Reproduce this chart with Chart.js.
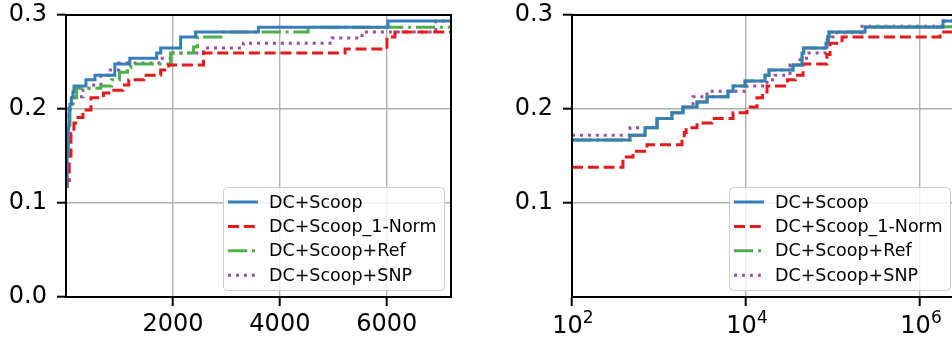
<!DOCTYPE html>
<html>
<head>
<meta charset="utf-8">
<script src="https://cdn.jsdelivr.net/npm/chart.js@4"></script>
<style>
  html, body { margin: 0; padding: 0; background: #fff; overflow: hidden; width: 952px; height: 340px; }
  canvas { position: absolute; top: 0; }
</style>
</head>
<body>
<canvas id="left" width="470" height="340" style="left:0"></canvas>
<canvas id="right" width="480" height="340" style="left:500px"></canvas>
<script>
// ─── Data ────────────────────────────────────────────────────────────────────

const seriesNames = ['DC+Scoop', 'DC+Scoop_1-Norm', 'DC+Scoop+Ref', 'DC+Scoop+SNP'];

// left panel (linear x)
const leftBlueX   = [0, 20, 40, 56, 75, 100, 130, 150, 373, 541, 913, 1193, 1696, 1771, 2144, 2423, 3598, 6021, 7200];
const leftBlueY   = [0.118, 0.15, 0.18, 0.199, 0.205, 0.212, 0.218, 0.2245, 0.231, 0.236, 0.248, 0.254, 0.2596, 0.265, 0.2766, 0.282, 0.287, 0.2936, 0.2936];
const leftRedX    = [0, 20, 60, 93, 149, 224, 317, 466, 700, 895, 1062, 1174, 1454, 1771, 1920, 2572, 5219, 6002, 6151, 7200];
const leftRedY    = [0.118, 0.124, 0.15, 0.174, 0.185, 0.191, 0.199, 0.212, 0.217, 0.220, 0.2255, 0.231, 0.236, 0.2415, 0.2468, 0.2596, 0.2638, 0.2766, 0.282, 0.282];
const leftGreenX  = [0, 15, 40, 75, 130, 200, 650, 850, 1000, 1150, 1212, 1957, 2386, 2460, 2926, 4529, 7200];
const leftGreenY  = [0.118, 0.15, 0.18, 0.20, 0.212, 0.222, 0.2245, 0.231, 0.239, 0.244, 0.248, 0.2596, 0.266, 0.2766, 0.282, 0.287, 0.287];
const leftPurpleX = [0, 15, 35, 56, 130, 317, 429, 652, 801, 988, 1771, 1950, 2572, 3318, 4977, 5536, 6915, 7200];
const leftPurpleY = [0.118, 0.15, 0.18, 0.206, 0.213, 0.220, 0.2255, 0.236, 0.2415, 0.249, 0.254, 0.2596, 0.265, 0.270, 0.2755, 0.282, 0.2936, 0.2936];

// right panel (log x)
const rightBlueX   = [100, 464, 690, 949, 1409, 1888, 2735, 3566, 6210, 7100, 9750, 16530, 18370, 34670, 44030, 46000, 83180, 87000, 89950, 233300, 1837000, 2660000];
const rightBlueY   = [0.167, 0.172, 0.180, 0.190, 0.196, 0.202, 0.2075, 0.213, 0.219, 0.2245, 0.2298, 0.236, 0.2415, 0.2468, 0.2596, 0.265, 0.270, 0.2766, 0.282, 0.287, 0.2936, 0.2936];
const rightRedX    = [100, 385, 502, 728, 1837, 1950, 2050, 2735, 4064, 7100, 10260, 13370, 15500, 17420, 30000, 37000, 45190, 85000, 92440, 126900, 1698000, 2660000];
const rightRedY    = [0.138, 0.149, 0.155, 0.162, 0.169, 0.175, 0.180, 0.185, 0.190, 0.196, 0.202, 0.212, 0.218, 0.2245, 0.231, 0.236, 0.248, 0.258, 0.270, 0.2766, 0.282, 0.282];
const rightGreenX  = [100, 464, 690, 949, 1409, 1888, 2735, 3566, 6210, 7100, 9750, 16530, 18370, 34670, 44030, 46000, 83180, 87000, 89950, 233300, 2660000];
const rightGreenY  = [0.167, 0.172, 0.180, 0.190, 0.196, 0.202, 0.2075, 0.213, 0.219, 0.2245, 0.2298, 0.236, 0.2415, 0.2468, 0.2596, 0.265, 0.270, 0.2766, 0.282, 0.2875, 0.2875];
const rightPurpleX = [100, 464, 853, 949, 1409, 1888, 2460, 3566, 10260, 17420, 21530, 32050, 41780, 52970, 85310, 97500, 105500, 215400, 1837000, 2660000];
const rightPurpleY = [0.172, 0.180, 0.185, 0.190, 0.196, 0.202, 0.213, 0.219, 0.2245, 0.231, 0.236, 0.2468, 0.254, 0.2596, 0.273, 0.2766, 0.281, 0.288, 0.2936, 0.2936];

// ticks
const leftXTicks  = [2000, 4000, 6000];
const rightXTicks = [100, 10000, 1000000];
const leftYTicks  = [0, 0.1, 0.2, 0.3];
const rightYTicks = [0.1, 0.2, 0.3];

// ─── Styles ──────────────────────────────────────────────────────────────────

const FONT = "'DejaVu Sans', sans-serif";
Chart.defaults.font.family = FONT;
Chart.defaults.color = '#000';

const colors = ['#377eb8', '#e41a1c', '#4daf4a', '#984ea3'];
const dashes = [[], [11, 4.8], [19.2, 4.8, 3, 4.8], [3, 4.95]];

const grid = { color: '#b0b0b0', lineWidth: 1.4, drawTicks: true, tickLength: 9, tickColor: '#000', tickWidth: 2 };

function makeDatasets(xs, ys) {
  return seriesNames.map((name, i) => ({
    label: name,
    data: xs[i].map((x, j) => ({ x, y: ys[i][j] })),
    borderColor: colors[i],
    borderDash: dashes[i],
    borderWidth: 3,
    borderCapStyle: 'butt',
    stepped: true,
    pointRadius: 0,
    fill: false,
  }));
}

// axis box must not grow from label overflow
function fixBox(s, size) {
  if (s.isHorizontal()) s.height = size; else s.width = size;
  s.paddingTop = s.paddingBottom = s.paddingLeft = s.paddingRight = 0;
}

// spines, in-axes legend and 10^n labels
const frame = {
  id: 'frame',
  afterDatasetsDraw(chart) {
    const { ctx, chartArea: a } = chart;
    ctx.save();
    ctx.strokeStyle = '#000';
    ctx.lineWidth = 2;
    ctx.strokeRect(a.left, a.top, a.right - a.left, a.bottom - a.top);
    ctx.restore();
  },
  afterDraw(chart, args, opts) {
    const { ctx, chartArea: a } = chart;
    ctx.save();
    const w = 221, h = 103;
    const left = a.right - 7 - w, top = a.bottom - 7 - h;
    ctx.beginPath();
    ctx.roundRect(left + 0.5, top + 0.5, w, h, 4);
    ctx.fillStyle = 'rgba(255,255,255,0.8)';
    ctx.fill();
    ctx.strokeStyle = '#cccccc';
    ctx.lineWidth = 1;
    ctx.stroke();
    chart.data.datasets.forEach((ds, i) => {
      const y = top + 15 + i * 24.4;
      ctx.beginPath();
      ctx.setLineDash(ds.borderDash);
      ctx.strokeStyle = ds.borderColor;
      ctx.lineWidth = 3;
      ctx.moveTo(left + 5, y);
      ctx.lineTo(left + 35, y);
      ctx.stroke();
      ctx.setLineDash([]);
      ctx.fillStyle = '#000';
      ctx.font = '17.5px ' + FONT;
      ctx.textBaseline = 'middle';
      ctx.fillText(ds.label, left + 46, y + 1);
    });

    if (opts.powLabels) {
      const s = chart.scales.x;
      ctx.fillStyle = '#000';
      ctx.textBaseline = 'alphabetic';
      s.ticks.forEach(t => {
        const exp = String(Math.round(Math.log10(t.value)));
        ctx.font = '24px ' + FONT;
        const wb = ctx.measureText('10').width;
        ctx.font = '17px ' + FONT;
        const we = ctx.measureText(exp).width;
        const x0 = s.getPixelForValue(t.value) - (wb + we) / 2 + 1;
        ctx.font = '24px ' + FONT;
        ctx.fillText('10', x0, a.bottom + 36);
        ctx.font = '17px ' + FONT;
        ctx.fillText(exp, x0 + wb, a.bottom + 26);
      });
    }
    ctx.restore();
  },
};

function yScale(ticks, width) {
  return {
    min: 0, max: 0.3,
    border: { display: false },
    grid,
    afterBuildTicks: s => { s.ticks = ticks.map(v => ({ value: v })); },
    ticks: { font: { size: 24 }, padding: 10, callback: v => v.toFixed(1) },
    afterFit: s => fixBox(s, width),
  };
}

// ─── Left: linear ────────────────────────────────────────────────────────────

new Chart(document.getElementById('left'), {
  type: 'line',
  data: {
    datasets: makeDatasets(
      [leftBlueX, leftRedX, leftGreenX, leftPurpleX],
      [leftBlueY, leftRedY, leftGreenY, leftPurpleY]),
  },
  options: {
    responsive: false, animation: false, devicePixelRatio: 1,
    layout: { padding: { top: 15, right: 19, left: 0, bottom: 0 } },
    plugins: { legend: { display: false }, tooltip: { enabled: false }, frame: { powLabels: false } },
    scales: {
      x: {
        type: 'linear', min: 0, max: 7200,
        border: { display: false },
        grid,
        afterBuildTicks: s => { s.ticks = leftXTicks.map(v => ({ value: v })); },
        ticks: { font: { size: 24 }, padding: 4, maxRotation: 0, callback: v => String(v) },
        afterFit: s => fixBox(s, 43),
      },
      y: yScale(leftYTicks, 66),
    },
  },
  plugins: [frame],
});

// ─── Right: log ──────────────────────────────────────────────────────────────

new Chart(document.getElementById('right'), {
  type: 'line',
  data: {
    datasets: makeDatasets(
      [rightBlueX, rightRedX, rightGreenX, rightPurpleX],
      [rightBlueY, rightRedY, rightGreenY, rightPurpleY]),
  },
  options: {
    responsive: false, animation: false, devicePixelRatio: 1,
    layout: { padding: { top: 15, right: 23, left: 0, bottom: 0 } },
    plugins: { legend: { display: false }, tooltip: { enabled: false }, frame: { powLabels: true } },
    scales: {
      x: {
        type: 'logarithmic', min: 100, max: 2660000,
        border: { display: false },
        grid,
        afterBuildTicks: s => { s.ticks = rightXTicks.map(v => ({ value: v })); },
        ticks: { display: false },
        afterFit: s => fixBox(s, 43),
      },
      y: yScale(rightYTicks, 72),
    },
  },
  plugins: [frame],
});
</script>
</body>
</html>
